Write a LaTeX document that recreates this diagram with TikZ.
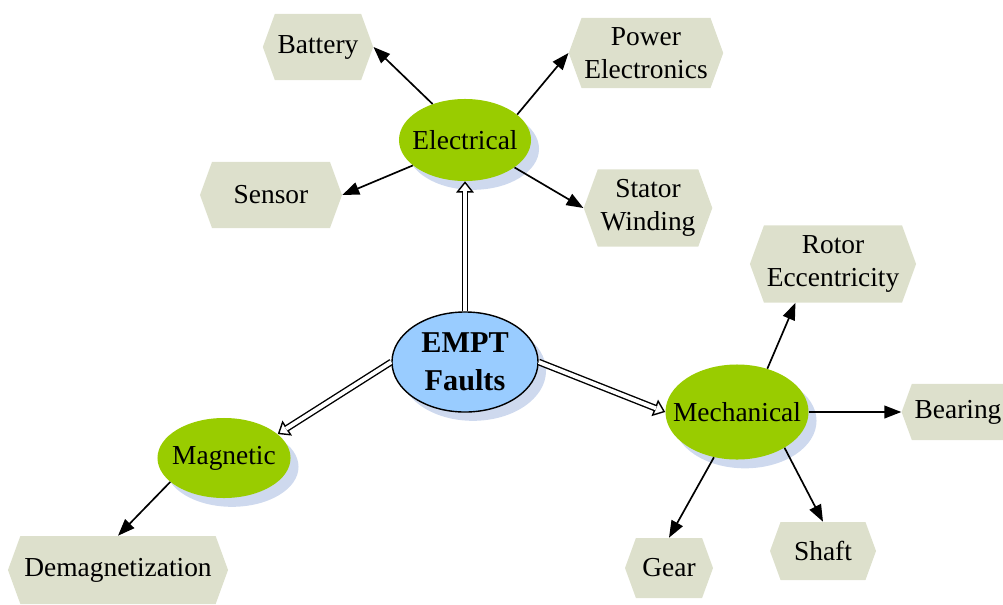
\documentclass[tikz,border=0pt]{standalone}
\usepackage{fontspec}
\setmainfont{Liberation Serif}
\usepackage{tikz}
\usetikzlibrary{arrows.meta, shapes.geometric, shapes.symbols, shadows}

\definecolor{leafgreen}{RGB}{153,204,0}
\definecolor{skyblue}{RGB}{153,204,255}
\definecolor{hexgray}{RGB}{221,224,204}
\definecolor{shadowblue}{RGB}{206,217,238}

\begin{document}
\begin{tikzpicture}[
  x=0.025cm, y=-0.025cm,
  font=\fontsize{19.5}{23.5}\selectfont,
  hub/.style={ellipse, draw, line width=1pt, fill=skyblue, inner sep=0pt, align=center,
    font=\fontsize{21.5}{27}\selectfont\bfseries,
    drop shadow={shadow xshift=0.2cm, shadow yshift=-0.22cm, fill=shadowblue, opacity=1}},
  group/.style={ellipse, fill=leafgreen, inner sep=0pt,
    drop shadow={shadow xshift=0.2cm, shadow yshift=-0.22cm, fill=shadowblue, opacity=1}},
  hexbox/.style={signal, signal to=west and east, signal pointer angle=140, fill=hexgray,
    inner xsep=2pt, inner ysep=2pt, align=center},
  arrow/.style={-{Triangle[length=12pt, width=9pt]}, line width=1.2pt},
  dblhead/.style={-{Triangle[open, fill=white, length=8pt, width=12.5pt]}, line width=1pt},
  dbl/.style={double, double distance=2.8pt, line width=1pt, shorten >=7pt}
]
\clip (0,0) rectangle (1003,604);

% main fault classes
\node[hub] (empt) at (465,362) [minimum width=3.65cm, minimum height=2.5cm] {EMPT\\Faults};
\node[group] (elec) at (465,140) [minimum width=3.3cm, minimum height=2.05cm] {\makebox[0pt]{Electrical}};
\node[group] (mech) at (737,412) [minimum width=3.575cm, minimum height=2.375cm] {\makebox[0pt]{Mechanical}};
\node[group] (magn) at (224,458) [minimum width=3.325cm, minimum height=2.0cm] {\makebox[0pt]{Magnetic}};

% components
\node[hexbox, minimum width=2.6cm, minimum height=1.65cm] (battery) at (318,47) {Battery};
\node[hexbox, minimum width=3.73cm, minimum height=1.75cm] (power) at (646,53) {Power\\Electronics};
\node[hexbox, minimum width=3.55cm, minimum height=1.65cm] (sensor) at (271,195) {Sensor};
\node[hexbox, minimum width=3.1cm, minimum height=1.93cm] (stator) at (648,208) {Stator\\Winding};
\node[hexbox, minimum width=3.65cm, minimum height=1.93cm] (rotor) at (833,264) {Rotor\\Eccentricity};
\node[hexbox, minimum width=2.6cm, minimum height=1.4cm] (bearing) at (958,412) {Bearing};
\node[hexbox, minimum width=2.2cm, minimum height=1.5cm] (gear) at (669,568) {Gear};
\node[hexbox, minimum width=2.65cm, minimum height=1.45cm] (shaft) at (823,551) {Shaft};
\node[hexbox, minimum width=5.5cm, minimum height=1.7cm] (demag) at (118,570) {Demagnetization};

% hub to classes
\foreach \a/\b in {empt.north/elec.south, empt.east/mech.west, empt.west/magn.24} {
  \draw[dblhead] (\a) -- (\b);
  \draw[dbl] (\a) -- (\b);
}

% classes to components
\draw[arrow] (elec.132) -- (battery.east);
\draw[arrow] (elec.26) -- (power.west);
\draw[arrow] (elec.206) -- (sensor.east);
\draw[arrow] (elec.331) -- (stator.west);
\draw[arrow] (mech.55) -- (rotor.226);
\draw[arrow] (mech.east) -- (bearing.west);
\draw[arrow] (mech.243) -- (gear.north);
\draw[arrow] (mech.323) -- (shaft.north);
\draw[arrow] (magn.204) -- (demag.north);
\end{tikzpicture}
\end{document}
